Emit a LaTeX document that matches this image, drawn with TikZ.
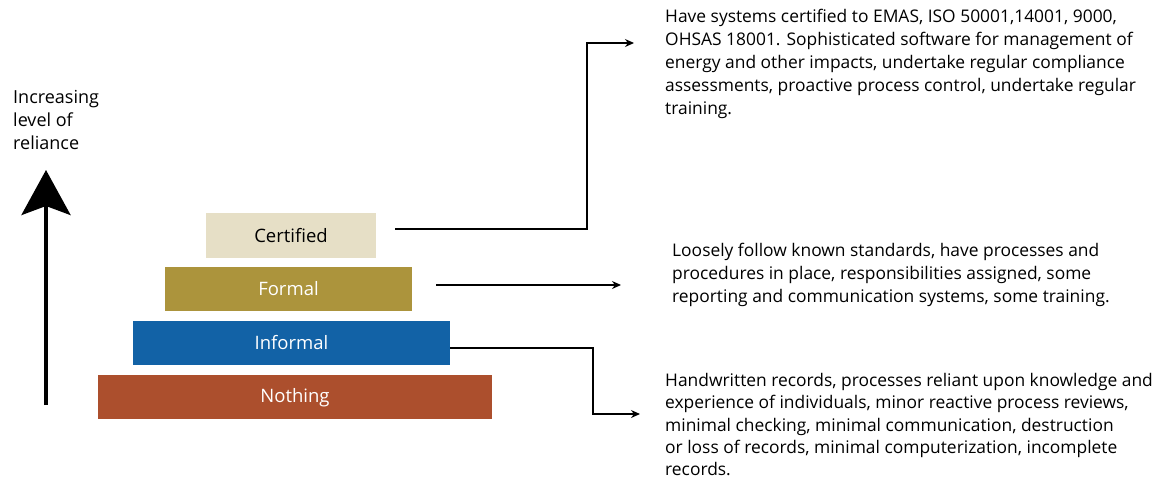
\documentclass[tikz,border=0pt]{standalone}
\usepackage{fontspec}
\setmainfont{Open Sans}
\usetikzlibrary{arrows.meta}
\definecolor{certc}{HTML}{E6DFC6}
\definecolor{formc}{HTML}{AC943C}
\definecolor{infc}{HTML}{1262A6}
\definecolor{nothc}{HTML}{AC4F2D}
\begin{document}
\begin{tikzpicture}[x=1pt,y=-1pt,
  level/.style={draw=none,inner sep=0,font=\fontsize{18.5}{22}\selectfont},
  desc/.style={inner sep=0,anchor=north west,align=left,font=\fontsize{17.4}{23}\selectfont},
  conn/.style={line width=1.3pt,-{Stealth[length=9pt,width=8pt]}}]
\useasboundingbox (0,0) rectangle (1157,480);
% levels
\path[fill=certc] (206,213) rectangle (376,258);
\node[level,text=black] (cert) at (291,236) {Certified};
\path[fill=formc] (165,267) rectangle (412,311);
\node[level,text=white] (form) at (288.5,289) {Formal};
\path[fill=infc] (133,321) rectangle (450,365);
\node[level,text=white] (inf) at (291.5,343) {Informal};
\path[fill=nothc] (98,375) rectangle (492,419);
\node[level,text=white] (noth) at (295,398) {Nothing};
% side label and arrow
\node[desc,font=\fontsize{18}{23}\selectfont] (rel) at (13,90) {Increasing\\level of\\reliance};
\coordinate (abot) at (46,405);
\coordinate (atop) at (46,170);
\draw[line width=4pt,-{Stealth[length=45pt,width=49pt,inset=9pt]}] (abot) -- (atop);
% descriptions
\node[desc] (dcert) at (665,9) {Have systems certified to EMAS, ISO 50001,14001, 9000,\\OHSAS 18001. Sophisticated software for management of\\energy and other impacts, undertake regular compliance\\assessments, proactive process control, undertake regular\\training.};
\node[desc] (dform) at (672,243) {Loosely follow known standards, have processes and\\procedures in place, responsibilities assigned, some\\reporting and communication systems, some training.};
\node[desc,font=\fontsize{17.4}{22.3}\selectfont] (dnoth) at (665,373) {Handwritten records, processes reliant upon knowledge and\\experience of individuals, minor reactive process reviews,\\minimal checking, minimal communication, destruction\\or loss of records, minimal computerization, incomplete\\records.};
% connectors
\coordinate (c1) at (395,229);
\coordinate (c1t) at (634,43);
\draw[conn] (c1) -- (587,229) -- (587,43) -- (c1t);
\coordinate (c2) at (436,285);
\coordinate (c2t) at (621,285);
\draw[conn] (c2) -- (c2t);
\coordinate (c3) at (450,348);
\coordinate (c3t) at (640,414);
\draw[conn] (c3) -- (593,348) -- (593,414) -- (c3t);
\end{tikzpicture}
\end{document}
